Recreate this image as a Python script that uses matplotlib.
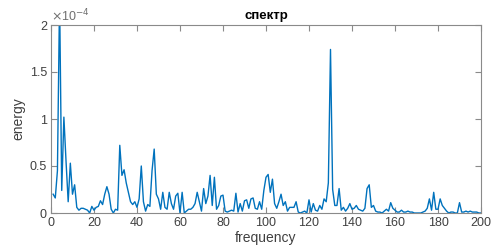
import numpy as np
import matplotlib
matplotlib.use('Agg')
import matplotlib.pyplot as plt
from matplotlib.ticker import FuncFormatter

# частоты 1..200, энергия в единицах 1e-4
freq = np.arange(1, 201)
energy_e4 = [
    0.20, 0.16, 0.45, 2.30, 0.24, 1.02, 0.55, 0.12, 0.53, 0.20,
    0.30, 0.06, 0.03, 0.05, 0.05, 0.04, 0.03, 0.00, 0.07, 0.03,
    0.06, 0.07, 0.13, 0.09, 0.20, 0.28, 0.20, 0.04, 0.00, 0.04,
    0.03, 0.72, 0.40, 0.46, 0.32, 0.22, 0.12, 0.09, 0.12, 0.06,
    0.15, 0.50, 0.12, 0.02, 0.09, 0.07, 0.45, 0.68, 0.20, 0.15,
    0.04, 0.22, 0.06, 0.04, 0.22, 0.10, 0.04, 0.18, 0.21, 0.00,
    0.22, 0.00, 0.02, 0.04, 0.04, 0.06, 0.10, 0.22, 0.12, 0.02,
    0.26, 0.10, 0.18, 0.40, 0.08, 0.38, 0.04, 0.08, 0.18, 0.19,
    0.02, 0.01, 0.02, 0.03, 0.02, 0.21, 0.01, 0.10, 0.02, 0.13,
    0.14, 0.05, 0.15, 0.16, 0.05, 0.04, 0.12, 0.04, 0.24, 0.38,
    0.41, 0.22, 0.36, 0.10, 0.05, 0.12, 0.20, 0.08, 0.12, 0.02,
    0.06, 0.06, 0.06, 0.12, 0.01, 0.00, 0.01, 0.02, 0.00, 0.14,
    0.01, 0.10, 0.03, 0.02, 0.08, 0.04, 0.15, 0.12, 0.32, 1.74,
    0.25, 0.08, 0.08, 0.26, 0.03, 0.06, 0.02, 0.05, 0.10, 0.04,
    0.05, 0.08, 0.04, 0.03, 0.02, 0.05, 0.26, 0.30, 0.06, 0.08,
    0.02, 0.01, 0.01, 0.00, 0.02, 0.04, 0.02, 0.11, 0.05, 0.03,
    0.01, 0.01, 0.03, 0.01, 0.01, 0.02, 0.01, 0.01, 0.00, 0.00,
    0.00, 0.00, 0.01, 0.02, 0.05, 0.15, 0.03, 0.22, 0.04, 0.04,
    0.15, 0.08, 0.05, 0.02, 0.00, 0.01, 0.01, 0.00, 0.00, 0.11,
    0.01, 0.01, 0.02, 0.01, 0.02, 0.01, 0.01, 0.01, 0.00, 0.00,
]
energy = np.array(energy_e4) * 1e-4

xticks = [0, 20, 40, 60, 80, 100, 120, 140, 160, 180, 200]
yticks = [0, 0.5e-4, 1e-4, 1.5e-4, 2e-4]

plt.rcParams['font.family'] = ['Liberation Sans', 'DejaVu Sans']
text_col = '#404040'
axis_col = '#8a8a8a'

fig = plt.figure(figsize=(4.94, 2.5), dpi=100)
ax = fig.add_axes([0.1032, 0.148, 0.8705, 0.752])

ax.plot(freq, energy, color='#0072BD', linewidth=1.0)

ax.set_xlim(0, 200)
ax.set_ylim(0, 2e-4)
ax.set_xticks(xticks)
ax.set_yticks(yticks)
ax.yaxis.set_major_formatter(FuncFormatter(lambda v, p: '%g' % round(v / 1e-4, 3)))

for s in ax.spines.values():
    s.set_color(axis_col)
    s.set_linewidth(0.8)
ax.tick_params(direction='in', length=4, width=0.8, color=axis_col,
               labelcolor=text_col, labelsize=9, top=True, right=True, pad=3)

ax.text(0.0, 1.003, r'$\times$10$^{-4}$', transform=ax.transAxes,
        fontsize=9, color='#707070', ha='left', va='bottom')

ax.set_title('спектр', fontsize=9.5, fontweight='bold', color='black', pad=4)
ax.set_xlabel('frequency', fontsize=10, color=text_col, labelpad=1)
ax.set_ylabel('energy', fontsize=10, color=text_col, labelpad=3)

fig.savefig('out.png', dpi=100)
